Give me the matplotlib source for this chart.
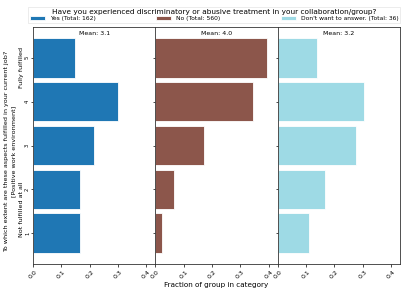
import matplotlib
matplotlib.use("Agg")
import matplotlib.pyplot as plt
import numpy as np

categories = [1, 2, 3, 4, 5]
groups = ["Yes", "No", "Don't want to answer."]
totals = [162, 560, 36]
means = [3.1, 4.0, 3.2]
fractions = [
    [0.167, 0.167, 0.216, 0.302, 0.148],
    [0.023, 0.066, 0.171, 0.346, 0.393],
    [0.111, 0.167, 0.278, 0.306, 0.139],
]
colors = ["#1f77b4", "#8c564b", "#9edae5"]
legend_title = "Have you experienced discriminatory or abusive treatment in your collaboration/group?"
ylabel_lines = ["To which extent are these aspects fulfilled in your current job?",
                "[Positive work environment]"]
low_label = "Not fulfilled at all"
high_label = "Fully fulfilled"

W, H = 407, 291
fig = plt.figure(figsize=(W / 100, H / 100), dpi=100)
left, right, bottom, top = 0.081, 0.983, 0.093, 0.907
w = (right - left) / 3
xmax = max(max(f) for f in fractions) * 1.1
axes = []
for i in range(3):
    ax = fig.add_axes([left + i * w, bottom, w, top - bottom])
    axes.append(ax)
    ax.barh(categories, fractions[i], height=0.9, color=colors[i],
            edgecolor="white", linewidth=0.6,
            label=f"{groups[i]} (Total: {totals[i]})")
    ax.set_xlim(0, xmax)
    ax.set_ylim(0.3, 5.7)
    ax.set_xticks([0.0, 0.1, 0.2, 0.3, 0.4])
    ax.set_xticklabels(["0.0", "0.1", "0.2", "0.3", "0.4"], rotation=45, fontsize=4.5)
    ax.set_yticks(categories)
    if i == 0:
        ax.set_yticklabels([str(c) for c in categories], rotation=90, fontsize=3.8, va="center")
    else:
        ax.set_yticklabels([])
    ax.tick_params(axis="x", length=2, width=0.5, pad=1.5)
    ax.tick_params(axis="y", length=1.5, width=0.5, pad=0.6)
    for s in ax.spines.values():
        s.set_linewidth(0.6)
        s.set_color("#333333")
    ax.text(0.5, 0.985, f"Mean: {means[i]}", transform=ax.transAxes,
            ha="center", va="top", fontsize=4.5)
    if i == 1:
        ax.set_xlabel("Fraction of group in category", fontsize=5.2, labelpad=2)

# y label lines (placed as figure text)
fs_y = 4.6
fig.text(7 / W, 1 - 151 / H, ylabel_lines[0], rotation=90, ha="center", va="center", fontsize=fs_y)
fig.text(14 / W, 1 - 151 / H, ylabel_lines[1], rotation=90, ha="center", va="center", fontsize=fs_y)
fig.text(21.5 / W, 1 - 67 / H, high_label, rotation=90, ha="center", va="center", fontsize=fs_y)
fig.text(21.5 / W, 1 - 209 / H, low_label, rotation=90, ha="center", va="center", fontsize=fs_y)

handles = [ax.patches[0] for ax in axes]
labels = [f"{groups[i]} (Total: {totals[i]})" for i in range(3)]
leg = fig.legend(handles, labels, loc="lower left",
                 bbox_to_anchor=(0.069, 0.922, 0.914, 0.07), mode="expand",
                 ncol=3, fontsize=4.3, title=legend_title, title_fontsize=5.3,
                 frameon=True, fancybox=False, borderpad=0.3, handlelength=2.5,
                 handleheight=0.6, borderaxespad=0, labelspacing=0.2)
leg.get_frame().set_linewidth(0.5)
leg.get_frame().set_edgecolor("#dddddd")

fig.savefig("out.png", dpi=100)
